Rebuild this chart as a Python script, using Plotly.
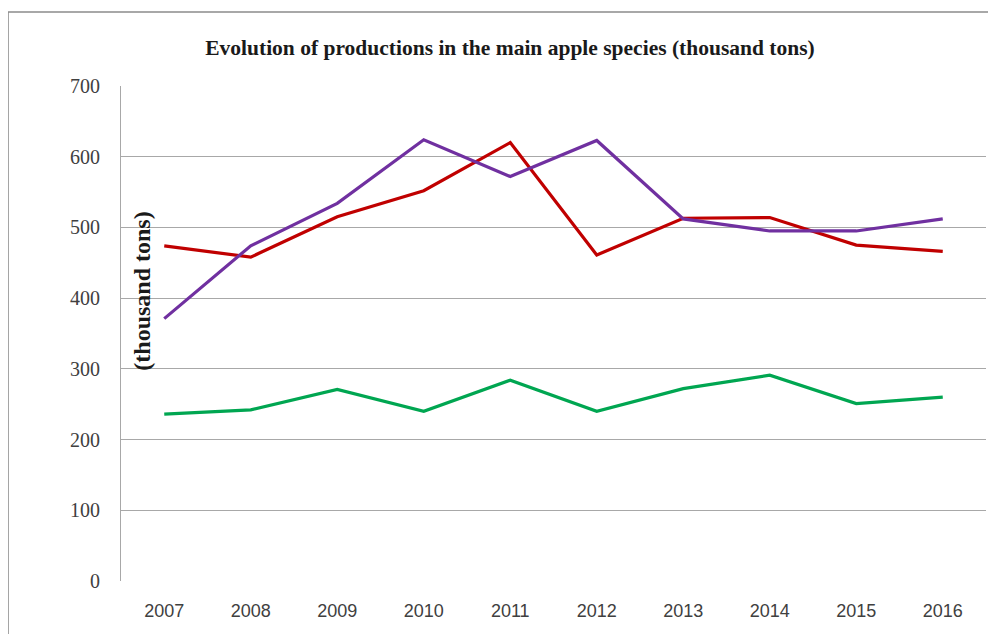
import plotly.graph_objects as go

# production of the main apple species, thousand tons
years = ["2007", "2008", "2009", "2010", "2011", "2012", "2013", "2014", "2015", "2016"]
red_series = [474, 458, 515, 552, 620, 461, 513, 514, 475, 466]
purple_series = [371, 474, 534, 624, 572, 623, 512, 495, 495, 512]
green_series = [236, 242, 271, 240, 284, 240, 272, 291, 251, 260]
y_ticks = [0, 100, 200, 300, 400, 500, 600, 700]

fig = go.Figure()
for vals, color in [(green_series, "#00A651"), (red_series, "#C00000"), (purple_series, "#7030A0")]:
    fig.add_trace(go.Scatter(
        x=years, y=vals, mode="lines",
        line=dict(color=color, width=3.2),
        showlegend=False,
    ))

fig.update_layout(
    width=996, height=634,
    margin=dict(l=113, r=18, t=78, b=61),
    paper_bgcolor="white",
    plot_bgcolor="white",
    title=dict(
        text="<b>Evolution of productions in the main apple species (thousand tons)</b>",
        x=0.504, xanchor="center", y=0.937, yanchor="middle",
        font=dict(family="Liberation Serif", size=21.5, color="#1a1a1a"),
    ),
    xaxis=dict(
        type="category", range=[-0.5, 9.5], automargin=False,
        showgrid=False, showline=False, ticks="",
        tickfont=dict(family="Liberation Sans", size=18, color="#404040"),
        ticklabelstandoff=17,
    ),
    yaxis=dict(
        range=[0, 700], tickvals=y_ticks, automargin=False,
        showgrid=True, gridcolor="#A8A8A8",
        gridwidth=1, showline=True, linecolor="#A8A8A8", zeroline=False, ticks="",
        tickfont=dict(family="Liberation Serif", size=20, color="#404040"),
        ticklabelstandoff=16,
    ),
    annotations=[dict(
        text="<b>(thousand tons)</b>", xref="paper", yref="paper",
        x=0.024, y=0.586, xanchor="center", yanchor="middle",
        textangle=-90, showarrow=False,
        font=dict(family="Liberation Serif", size=24, color="#1a1a1a"),
    )],
    shapes=[dict(
        type="rect", xref="paper", yref="paper",
        x0=-0.1306, y0=-0.2, x1=1.05, y1=1.1495,
        line=dict(color="#8c8c8c", width=1.5), layer="below",
    )],
)

fig.write_html("out.html")
